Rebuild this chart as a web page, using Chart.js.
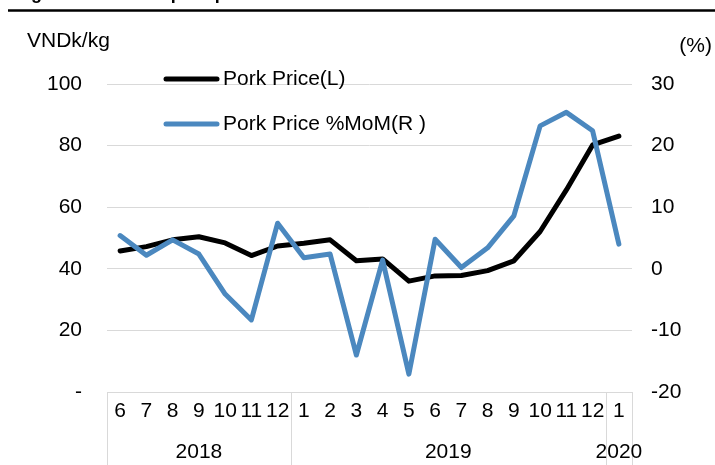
<!DOCTYPE html>
<html>
<head>
<meta charset="utf-8">
<script src="https://cdn.jsdelivr.net/npm/chart.js@4/dist/chart.umd.min.js"></script>
<style>
  html, body { margin: 0; padding: 0; background: #fff; }
  #wrap { width: 715px; height: 465px; position: relative; }
</style>
</head>
<body>
<div id="wrap"><canvas id="c" width="715" height="465"></canvas></div>
<script>
// Month ticks, June 2018 – January 2020
const months = ['6','7','8','9','10','11','12','1','2','3','4','5','6','7','8','9','10','11','12','1'];
// Year groups under the month row, with the number of months in each
const yearLabels = ['2018', '2019', '2020'];
const yearSpans = [7, 12, 1];
// Pork price, VNDk/kg (left axis)
const porkPrice = [45.8, 47.2, 49.4, 50.4, 48.4, 44.3, 47.4, 48.3, 49.4, 42.6, 43.2, 36.0, 37.7, 37.8, 39.4, 42.6, 52.1, 65.6, 80.2, 83.1];
// Pork price, % month-on-month (right axis)
const porkMoM = [5.4, 2.2, 4.7, 2.4, -4.1, -8.3, 7.4, 1.8, 2.4, -14.0, 1.4, -17.1, 4.8, 0.2, 3.4, 8.6, 23.2, 25.4, 22.4, 4.0];
// Axis ticks
const leftTicks = [0, 20, 40, 60, 80, 100];
const rightTicks = [-20, -10, 0, 10, 20, 30];

const FONT = '"Liberation Sans", Arial, sans-serif';
const TEXT = '#000000';
const GRID = '#d9d9d9';
const BLUE = '#4b88bf';

// Header rule, axis unit captions, legend, and the year row with separators
const decor = {
  id: 'decor',
  afterDraw(chart) {
    const ctx = chart.ctx;
    const x = chart.scales.x;
    const area = chart.chartArea;
    ctx.save();

    // title (sits mostly above the canvas top) and rule
    ctx.fillStyle = TEXT;
    ctx.font = 'bold 18px ' + FONT;
    ctx.textBaseline = 'alphabetic';
    ctx.textAlign = 'left';
    ctx.fillText('Figure 5: Vietnam pork price', 15, -1.5);
    ctx.strokeStyle = '#000';
    ctx.lineWidth = 2.5;
    ctx.beginPath();
    ctx.moveTo(8, 10.5);
    ctx.lineTo(715, 10.5);
    ctx.stroke();

    // unit captions
    ctx.font = '21px ' + FONT;
    ctx.textBaseline = 'middle';
    ctx.textAlign = 'left';
    ctx.fillText('VNDk/kg', 27, 41);
    ctx.textAlign = 'right';
    ctx.fillText('(%)', 712, 46);

    // legend
    const items = chart.data.datasets;
    const ly = [79, 124];
    items.forEach((ds, i) => {
      ctx.strokeStyle = ds.borderColor;
      ctx.lineWidth = 5;
      ctx.lineCap = 'round';
      ctx.beginPath();
      ctx.moveTo(166, ly[i]);
      ctx.lineTo(217, ly[i]);
      ctx.stroke();
      ctx.fillStyle = TEXT;
      ctx.textAlign = 'left';
      ctx.fillText(ds.label, 223, ly[i]);
    });

    // year separators and labels
    const half = (x.getPixelForValue(1) - x.getPixelForValue(0)) / 2;
    ctx.strokeStyle = GRID;
    ctx.lineWidth = 1;
    ctx.lineCap = 'butt';
    let start = 0;
    const edges = [x.getPixelForValue(0) - half];
    yearSpans.forEach(n => {
      edges.push(x.getPixelForValue(start + n - 1) + half);
      start += n;
    });
    edges.forEach(px => {
      const xx = Math.round(px) + 0.5;
      ctx.beginPath();
      ctx.moveTo(xx, area.bottom);
      ctx.lineTo(xx, chart.height);
      ctx.stroke();
    });
    ctx.fillStyle = TEXT;
    ctx.textAlign = 'center';
    ctx.font = '21px ' + FONT;
    yearLabels.forEach((lab, i) => {
      ctx.fillText(lab, (edges[i] + edges[i + 1]) / 2, 452);
    });
    ctx.restore();
  }
};

new Chart(document.getElementById('c'), {
  type: 'line',
  data: {
    labels: months,
    datasets: [
      {
        label: 'Pork Price(L)',
        data: porkPrice,
        yAxisID: 'y',
        borderColor: '#000000',
        backgroundColor: '#000000',
        borderWidth: 5,
        pointRadius: 0,
        tension: 0,
        borderJoinStyle: 'round',
        borderCapStyle: 'round',
        order: 2
      },
      {
        label: 'Pork Price %MoM(R )',
        data: porkMoM,
        yAxisID: 'y1',
        borderColor: BLUE,
        backgroundColor: BLUE,
        borderWidth: 5,
        pointRadius: 0,
        tension: 0,
        borderJoinStyle: 'round',
        borderCapStyle: 'round',
        order: 1
      }
    ]
  },
  options: {
    responsive: false,
    animation: false,
    devicePixelRatio: 1,
    layout: { padding: { top: 84, bottom: 0, left: 0, right: 0 } },
    plugins: {
      legend: { display: false },
      tooltip: { enabled: false }
    },
    scales: {
      x: {
        offset: true,
        grid: { display: false, drawTicks: false },
        border: { display: true, color: GRID, width: 1 },
        ticks: {
          color: TEXT,
          font: { family: FONT, size: 21 },
          padding: 7,
          maxRotation: 0,
          autoSkip: false
        },
        afterFit(s) { s.height = 73; }
      },
      y: {
        position: 'left',
        min: 0,
        max: 100,
        afterBuildTicks(s) { s.ticks = leftTicks.map(v => ({ value: v })); },
        grid: { color: GRID, lineWidth: 1, drawTicks: false },
        border: { display: false },
        ticks: {
          color: TEXT,
          font: { family: FONT, size: 21 },
          padding: 25,
          callback: v => (v === 0 ? '-' : v)
        },
        afterFit(s) { s.width = 107; }
      },
      y1: {
        position: 'right',
        min: -20,
        max: 30,
        afterBuildTicks(s) { s.ticks = rightTicks.map(v => ({ value: v })); },
        grid: { display: false, drawTicks: false },
        border: { display: false },
        ticks: {
          color: TEXT,
          font: { family: FONT, size: 21 },
          padding: 19
        },
        afterFit(s) { s.width = 83; }
      }
    }
  },
  plugins: [decor]
});
</script>
</body>
</html>
